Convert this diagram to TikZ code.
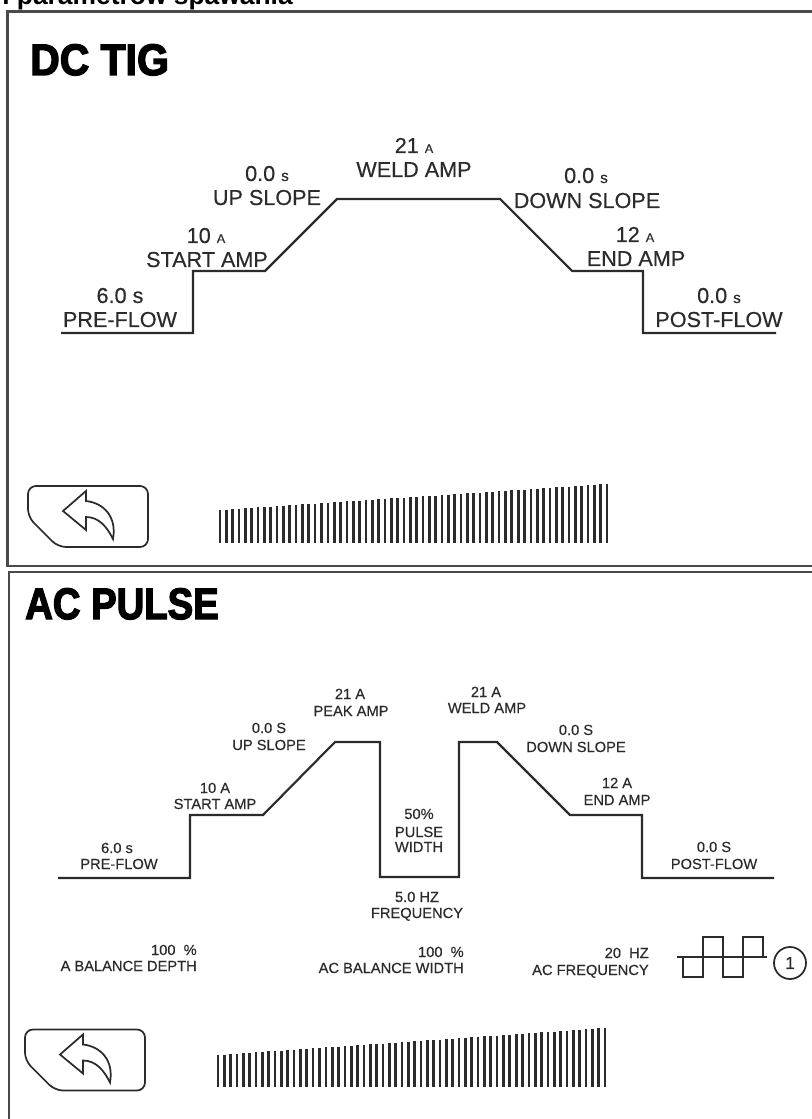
\documentclass[tikz,border=0pt]{standalone}
\usepackage{fontspec}
\setmainfont{Liberation Sans}
\newfontfamily\heavyfont[FakeBold=3.2]{Liberation Sans Bold}
\newfontfamily\bodyfont[FakeBold=0.35]{Liberation Sans}
\definecolor{ink}{HTML}{2B2B2B}
\definecolor{frameink}{HTML}{4A4A4A}
\tikzset{
  frameline/.style={draw=frameink,line width=1.7pt},
  profile/.style={draw=ink,line width=1.6pt,line join=miter},
  thin wire/.style={draw=ink,line width=1.3pt},
  barline/.style={draw=ink,line width=2pt},
  btn/.style={draw=ink,line width=1.3pt},
  dctxt/.style={inner sep=0pt,anchor=base,text=ink,font=\bodyfont\fontsize{16.2}{18}\selectfont},
  actxt/.style={inner sep=0pt,anchor=base,text=ink,font=\bodyfont\fontsize{11}{12}\selectfont},
  acright/.style={actxt,anchor=base east},
  paneltitle/.style={inner sep=0pt,anchor=base west,text=black,font=\heavyfont\fontsize{33}{36}\selectfont},
}
\newcommand{\tinyu}[1]{{\fontsize{9.5}{10}\selectfont #1}}
\newcommand{\smallu}[1]{{\fontsize{11.5}{12}\selectfont #1}}
\newcommand{\backbutton}[2]{%
  \begin{scope}[shift={(#1,#2)}]
    \draw[btn,rounded corners=6] (28,517) -- (28,486) -- (148,486) -- (148,547) -- (58,547) -- cycle;
    \draw[btn,line join=miter] (63,511) -- (86,491) -- (86,501)
      .. controls (104,503) and (117,517) .. (113,539)
      .. controls (107,527) and (99,517) .. (86,517)
      -- (86,530) -- cycle;
  \end{scope}}
\begin{document}
\begin{tikzpicture}[x=0.75pt,y=-0.75pt]
\useasboundingbox (0,0) rectangle (812,1119);
\clip (0,0) rectangle (812,1119);
\fill[white] (0,0) rectangle (812,1119);
% cropped heading
\node[inner sep=0pt,anchor=base west,font=\bfseries\fontsize{19.8}{22}\selectfont] (heading) at (2,5) {l parametrow spawania};
% frames
\draw[frameline] (820,11.5) -- (7.5,11.5) -- (7.5,566) -- (820,566);
\draw[frameline] (820,572) -- (9,572) -- (9,1125);
% titles
\node[paneltitle,xscale=.93] (dctitle) at (30,75) {DC TIG};
\node[paneltitle,xscale=.87] (actitle) at (25,619) {AC PULSE};
% DC profile
\draw[profile] (61,333) -- (193,333) -- (193,271) -- (265,271) -- (337,199) -- (500,199) -- (572,271) -- (643,271) -- (643,333) -- (776,333);
\node[dctxt] (d1a) at (120,303) {6.0 s};
\node[dctxt] (d1b) at (120,327) {PRE-FLOW};
\node[dctxt] (d2a) at (206,243) {10 \tinyu{A}};
\node[dctxt] (d2b) at (207,267) {START AMP};
\node[dctxt] (d3a) at (267,181) {0.0 \smallu{s}};
\node[dctxt] (d3b) at (267,205) {UP SLOPE};
\node[dctxt] (d4a) at (414,153) {21 \tinyu{A}};
\node[dctxt] (d4b) at (414,177) {WELD AMP};
\node[dctxt] (d5a) at (586,183) {0.0 \smallu{s}};
\node[dctxt] (d5b) at (587,208) {DOWN SLOPE};
\node[dctxt] (d6a) at (635,242) {12 \tinyu{A}};
\node[dctxt] (d6b) at (636,266) {END AMP};
\node[dctxt] (d7a) at (719,303) {0.0 \smallu{s}};
\node[dctxt] (d7b) at (719,327) {POST-FLOW};
% AC profile
\draw[profile] (58,878) -- (190,878) -- (190,815) -- (263,815) -- (335,742) -- (380,742) -- (380,877) -- (459,877) -- (459,742) -- (497,742) -- (570,815) -- (642,815) -- (642,878) -- (774,878);
\node[actxt] (a1a) at (117,853) {6.0 s};
\node[actxt] (a1b) at (119,869) {PRE-FLOW};
\node[actxt] (a2a) at (215,793) {10 A};
\node[actxt] (a2b) at (215,809) {START AMP};
\node[actxt] (a3a) at (269,733) {0.0 S};
\node[actxt] (a3b) at (269,750) {UP SLOPE};
\node[actxt] (a4a) at (350,699) {21 A};
\node[actxt] (a4b) at (351,716) {PEAK AMP};
\node[actxt] (a5a) at (419,819) {50\%};
\node[actxt] (a5b) at (419,837) {PULSE};
\node[actxt] (a5c) at (419,852) {WIDTH};
\node[actxt] (a6a) at (486,697) {21 A};
\node[actxt] (a6b) at (487,713) {WELD AMP};
\node[actxt] (a7a) at (576,735) {0.0 S};
\node[actxt] (a7b) at (576,752) {DOWN SLOPE};
\node[actxt] (a8a) at (617,788) {12 A};
\node[actxt] (a8b) at (617,805) {END AMP};
\node[actxt] (a9a) at (714,852) {0.0 S};
\node[actxt] (a9b) at (714,869) {POST-FLOW};
\node[actxt] (a10a) at (417,902) {5.0 HZ};
\node[actxt] (a10b) at (417,918) {FREQUENCY};
\node[acright] (b1a) at (197,955) {100\ \ \%};
\node[acright] (b1b) at (197,971) {A BALANCE DEPTH};
\node[acright] (b2a) at (464,957) {100\ \ \%};
\node[acright] (b2b) at (464,973) {AC BALANCE WIDTH};
\node[acright] (b3a) at (649,958) {20\ \ HZ};
\node[acright] (b3b) at (649,975) {AC FREQUENCY};
% square wave symbol
\draw[thin wire] (677,957) -- (767,957);
\draw[thin wire] (683,957) -- (683,977) -- (703,977) -- (703,937) -- (723,937) -- (723,977) -- (743,977) -- (743,937) -- (763,937) -- (763,957);
\node[circle,draw=ink,line width=1.3pt,minimum size=24pt,inner sep=0pt,text=ink,font=\bodyfont\fontsize{13}{14}\selectfont] (cyc) at (790,963) {1};
% back buttons
\backbutton{0}{0}
\backbutton{-3}{543.5}
% level bars
\foreach \i in {0,...,61}{
  \draw[barline] ({220+\i*6.344},543) -- ({220+\i*6.344},{510-\i*26/61});
  \draw[barline] ({218+\i*6.344},1087) -- ({218+\i*6.344},{1055-\i*27/61});
}
\end{tikzpicture}
\end{document}
